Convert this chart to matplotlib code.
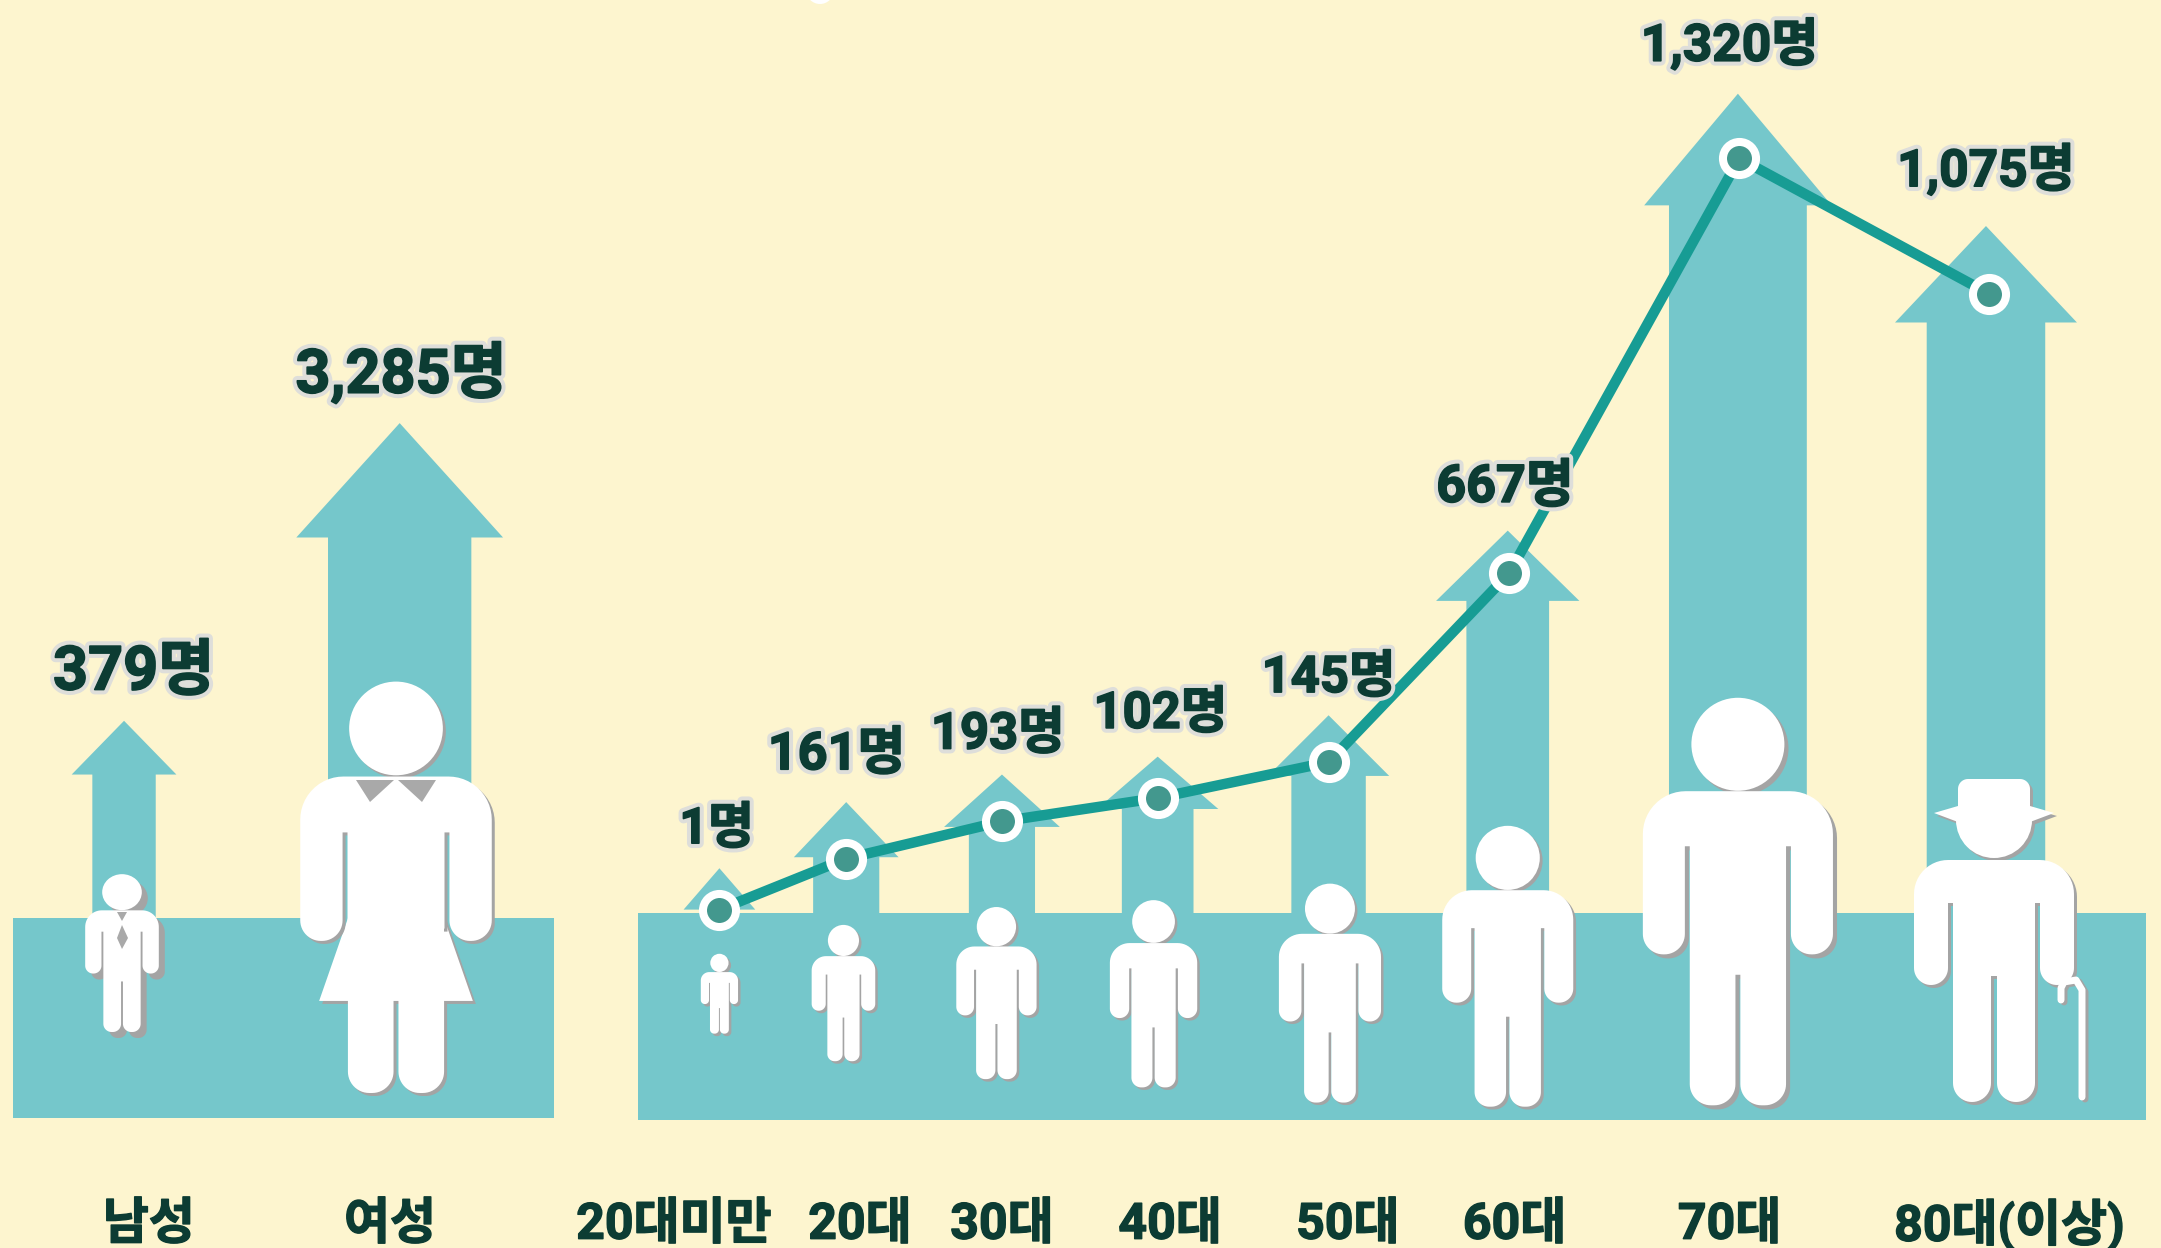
import numpy as np
import matplotlib
matplotlib.use("Agg")
import matplotlib.pyplot as plt
from matplotlib.patches import Polygon, Circle, Rectangle, Ellipse
import matplotlib.patheffects as pe

plt.rcParams['font.family'] = ['Roboto', 'Noto Sans CJK KR', 'DejaVu Sans']

BG = '#fdf5cf'; TEAL = '#75c7cb'; LINE = '#179c94'; DOT = '#43988e'; INK = '#0c3c33'; SHADOW = '#a4a4a4'; COLLAR = '#a9a9a9'

# ---- data ----
gender_labels = ['남성', '여성']
gender_counts = [379, 3285]
age_labels = ['20대미만', '20대', '30대', '40대', '50대', '60대', '70대', '80대(이상)']
age_counts = [1, 161, 193, 102, 145, 667, 1320, 1075]

# drawn heights (the graphic is not to scale): pixel level
S = 2161 / 1568
gender_x = [90, 290]
gender_tip = [523, 307]
gender_head = [562, 390]
gender_half_head = [38, 75]
gender_half_shaft = [23, 52]
age_x = [522, 614, 727, 840, 964, 1094, 1261, 1441]
age_tip = [630, 582, 562, 549, 519, 385, 68, 164]
age_head = [660, 622, 600, 587, 563, 436, 149, 234]
age_half_head = [26, 38, 42, 44, 44, 52, 68, 66]
age_half_shaft = [0, 24, 24, 26, 27, 30, 50, 43]
line_x = [522, 614, 727, 840, 964, 1095, 1262, 1443]
line_y = [660, 623, 596, 579, 553, 416, 115, 213]

gender_label_pos = [(97, 488), (291, 271)]
age_label_pos = [(520, 602), (607, 548), (724, 533), (842, 518), (964, 492), (1092, 354), (1255, 33), (1441, 124)]
gender_label_size = [44, 44]
age_label_size = [36, 37.5, 36.5, 36.5, 36.5, 37.5, 37, 37]
gender_cat_x = [108, 283]
age_cat_x = [489, 624, 727, 849, 978, 1099, 1255, 1458]

person_cx = [522, 612, 723, 837, 965, 1094, 1261]
person_top = [692, 671, 658, 653, 641, 599, 506]
person_bot = [750, 770, 783, 789, 800, 803, 802]

fig = plt.figure(figsize=(21.61, 12.48), dpi=100, facecolor=BG)
ax = fig.add_axes([0, 0, 1, 1])
ax.set_xlim(0, 2161); ax.set_ylim(1248, 0); ax.axis('off')


def rounded(verts):
    """verts: (x, y, r) -> polygon points with circular-arc corners"""
    out = []
    n = len(verts)
    w = np.sqrt(0.5)
    for i in range(n):
        p = np.array(verts[i][:2], float); r = verts[i][2]
        if r <= 0:
            out.append(p); continue
        a = np.array(verts[i - 1][:2], float); b = np.array(verts[(i + 1) % n][:2], float)
        u = (a - p) / np.linalg.norm(a - p); v = (b - p) / np.linalg.norm(b - p)
        for t in np.linspace(0, 1, 14):
            c0, c1, c2 = (1 - t) ** 2, 2 * t * (1 - t) * w, t ** 2
            q = (c0 * (p + u * r) + c1 * p + c2 * (p + v * r)) / (c0 + c1 + c2)
            out.append(q)
    return np.array(out)


def add_shapes(shapes, offset, z):
    for sh in shapes:
        for dx, col, zz in ((offset, SHADOW, z), (0, 'white', z + 0.1)):
            if isinstance(sh, tuple):
                (x, y), w, h = sh
                ax.add_patch(Ellipse((x + dx, y + dx), w, h, fc=col, ec='none', zorder=zz))
            else:
                ax.add_patch(Polygon(sh + dx, closed=True, fc=col, ec='none', zorder=zz))


def upper(cx, top, H):
    W, T, G = .233, .118, .130
    def P(x, y, r=0): return (cx + x * H, top + y * H, r * H)
    v = [P(-.006, .68), P(-.006, 1, .052), P(-T, 1, .052), P(-T, .365), P(-G, .365), P(-G, .63, .05),
         P(-W, .63, .05), P(-W, .23, .105), P(W, .23, .105), P(W, .63, .05), P(G, .63, .05), P(G, .365),
         P(T, .365), P(T, 1, .052), P(.006, 1, .052), P(.006, .68)]
    return rounded(v)


def person(cx, top, bot, z=5):
    cx, top, bot = cx * S, top * S, bot * S
    H = bot - top
    head = ((cx, top + .115 * H), .228 * H, .228 * H)
    add_shapes([head, upper(cx, top, H)], max(2.5, .010 * H), z)


def arrow(cx, tip, head, base, hh, hs, z=1):
    cx, tip, head, base, hh, hs = [a * S for a in (cx, tip, head, base, hh, hs)]
    pts = [(cx, tip), (cx + hh, head), (cx + hs, head), (cx + hs, base), (cx - hs, base), (cx - hs, head), (cx - hh, head)]
    ax.add_patch(Polygon(pts, closed=True, fc=TEAL, ec='none', zorder=z))


# blocks
ax.add_patch(Rectangle((13, 918), 541, 200, fc=TEAL, ec='none', zorder=1))
ax.add_patch(Rectangle((638, 913), 1508, 207, fc=TEAL, ec='none', zorder=1))

# arrows
for i in range(2):
    arrow(gender_x[i], gender_tip[i], gender_head[i], 670, gender_half_head[i], gender_half_shaft[i])
for i in range(8):
    arrow(age_x[i], age_tip[i], age_head[i], 665, age_half_head[i], age_half_shaft[i])

# man
mx, mt, mb = 122, 874, 1032
add_shapes([((mx, mt + .115 * 158), .228 * 158 * 1.1, .228 * 158), upper(mx, mt, mb - mt)], 6, 5)
ax.add_patch(Polygon([(117, 912), (127, 912), (122, 921)], fc=COLLAR, ec='none', zorder=6))
ax.add_patch(Polygon([(122, 925), (128, 938), (122, 949), (117, 938)], fc=COLLAR, ec='none', zorder=6))

# woman
wx, wt, wb = 396, 682, 1093
H = wb - wt
def Wp(x, y, r=0): return (wx + x * H, wt + y * H, r * H)
legs = rounded([Wp(-.006, .77), Wp(-.006, 1, .052), Wp(-.117, 1, .052), Wp(-.117, .77)])
legs2 = rounded([Wp(.006, .77), Wp(.006, 1, .052), Wp(.117, 1, .052), Wp(.117, .77)])
dress = np.array([Wp(-.117, .575)[:2], Wp(.117, .575)[:2], Wp(.187, .776)[:2], Wp(-.187, .776)[:2]])
add_shapes([legs, legs2, dress], 3, 3)
body = rounded([Wp(-.118, .6), Wp(-.118, .366), Wp(-.130, .366), Wp(-.130, .63, .05), Wp(-.233, .63, .05), Wp(-.233, .23, .105),
                Wp(.233, .23, .105), Wp(.233, .63, .05), Wp(.130, .63, .05), Wp(.130, .366), Wp(.118, .366), Wp(.118, .6)])
add_shapes([((wx, wt + .113 * H), .228 * H, .228 * H), body], 3, 4)
torso_fill = np.array([Wp(-.118, .5)[:2], Wp(.118, .5)[:2], Wp(.118, .7)[:2], Wp(-.118, .7)[:2]])
ax.add_patch(Polygon(torso_fill, closed=True, fc='white', ec='none', zorder=4.2))
for s in (-1, 1):
    ax.add_patch(Polygon([(wx + s * 2, 780), (wx + s * 40, 780), (wx + s * 26, 802)], fc=COLLAR, ec='none', zorder=6))

for cx, t, b in zip(person_cx, person_top, person_bot):
    person(cx, t, b)

# elderly person with hat and cane
ox = 1994
def Ep(x, y, r=0): return (ox + x, y, r)
old = rounded([Ep(-3, 976), Ep(-3, 1102, 19), Ep(-41, 1102, 19), Ep(-41, 903), Ep(-46, 903), Ep(-46, 985, 17), Ep(-80, 985, 17),
               Ep(-80, 860, 34), Ep(80, 860, 34), Ep(80, 985, 17), Ep(46, 985, 17), Ep(46, 903), Ep(41, 903), Ep(41, 1102, 19),
               Ep(3, 1102, 19), Ep(3, 976)])
head_e = ((ox, 820), 76, 76)
crown = rounded([Ep(-36, 815), Ep(-36, 779, 10), Ep(36, 779, 10), Ep(36, 815)])
brim = np.array([Ep(-60, 813)[:2], Ep(-36, 806)[:2], Ep(36, 806)[:2], Ep(60, 813)[:2], Ep(36, 822)[:2], Ep(-36, 822)[:2]])
add_shapes([head_e, crown, brim, old], 3, 5)
cane_x = np.array([2082, 2082, 2076, 2064, 2061, 2061]); cane_y = np.array([1097, 990, 980, 982, 988, 1000])
ax.plot(cane_x + 3, cane_y + 2, color=SHADOW, lw=5, zorder=5.0, solid_capstyle='round')
ax.plot(cane_x, cane_y, color='white', lw=5, zorder=5.2, solid_capstyle='round')

# line + markers
lx = [x * S for x in line_x]; ly = [y * S for y in line_y]
ax.plot(lx, ly, color=LINE, lw=7.5, zorder=8, solid_joinstyle='round')
ax.plot(lx, ly, ls='none', marker='o', ms=23.8, mfc=DOT, mec='white', mew=5.8, zorder=9)

# partially cut marker at the top edge
ax.add_patch(Circle((820, -10), 14, fc='white', ec='none', zorder=9))

# value labels
halo = [pe.withStroke(linewidth=7, foreground='#dededa'), pe.withStroke(linewidth=1.2, foreground=INK)]
def vlabel(v, pos, size):
    ax.text(pos[0] * S, pos[1] * S, f'{v:,}명', ha='center', va='center', fontsize=size, fontweight='bold',
            color=INK, path_effects=halo, zorder=12)
for v, p, s in zip(gender_counts, gender_label_pos, gender_label_size):
    vlabel(v, p, s)
for v, p, s in zip(age_counts, age_label_pos, age_label_size):
    vlabel(v, p, s)

# category labels
for t, x in zip(gender_labels + age_labels, gender_cat_x + age_cat_x):
    ax.text(x * S, 889 * S, t, ha='center', va='center', fontsize=36, fontweight='bold', color=INK, zorder=12,
            path_effects=[pe.withStroke(linewidth=1, foreground=INK)])

fig.savefig('out.png', dpi=100, facecolor=BG)
